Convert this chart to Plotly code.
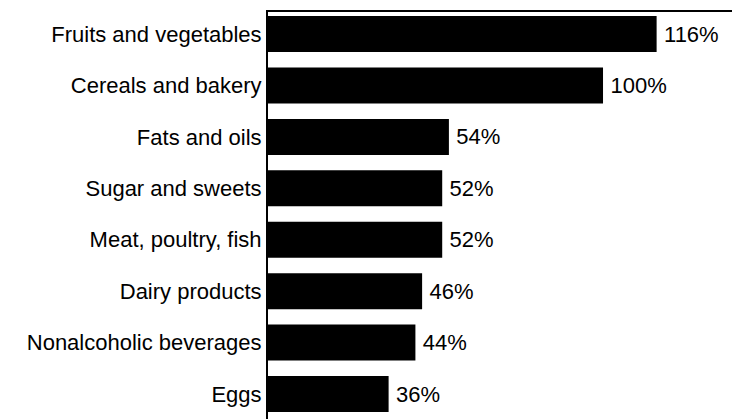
import plotly.graph_objects as go

categories = ["Fruits and vegetables", "Cereals and bakery", "Fats and oils",
              "Sugar and sweets", "Meat, poultry, fish", "Dairy products",
              "Nonalcoholic beverages", "Eggs"]
values = [116, 100, 54, 52, 52, 46, 44, 36]
value_labels = [f"{v}%" for v in values]

FONT = "Liberation Sans, Arial, sans-serif"

fig = go.Figure(go.Bar(
    x=values, y=categories, orientation="h",
    marker=dict(color="#000000", line=dict(width=0)),
    width=0.70,
    text=value_labels, texttemplate="\u2009%{text}",
    textposition="outside", cliponaxis=False,
    textfont=dict(family=FONT, size=22, color="#000000"),
))

fig.update_layout(
    width=732, height=419,
    margin=dict(l=268, r=0, t=12, b=0),
    paper_bgcolor="white", plot_bgcolor="white",
    showlegend=False,
    font=dict(family=FONT, size=22, color="#000000"),
    xaxis=dict(range=[0, 138.5], showgrid=False, zeroline=False,
               showticklabels=False, ticks="", side="top",
               showline=True, linecolor="#000000", linewidth=2),
    yaxis=dict(categoryorder="array", categoryarray=categories,
               range=[7.486, -0.43], showgrid=False, zeroline=False,
               ticks="", showline=True, linecolor="#000000", linewidth=2,
               ticklabelstandoff=0),
)

fig.write_html("out.html")
